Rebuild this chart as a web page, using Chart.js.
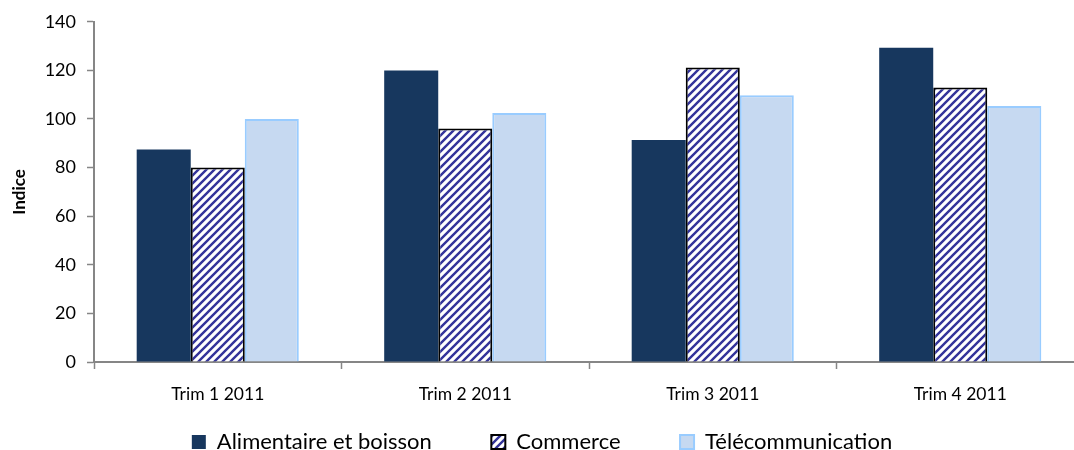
<!DOCTYPE html>
<html>
<head>
<meta charset="utf-8">
<title>Indice par trimestre</title>
<script src="https://cdn.jsdelivr.net/npm/chart.js@4.4.1/dist/chart.umd.min.js"></script>
<style>
    html, body { margin: 0; padding: 0; background: #fff; overflow: hidden; }
    #cadre { width: 1074px; height: 450px; overflow: hidden; position: relative; }
    #graphique { display: block; }
</style>
</head>
<body>
<div id="cadre">
    <canvas id="graphique" width="1090" height="463"></canvas>
</div>
<script>
// Donnees
var trimestres = ["Trim 1 2011", "Trim 2 2011", "Trim 3 2011", "Trim 4 2011"];
var alimentaire = [87.5, 120, 91.4, 129.3];
var commerce = [80, 96.1, 121.2, 113];
var telecom = [100, 102.5, 109.8, 105.3];
var yMin = 0, yMax = 140, yPas = 20;

var police = "Lato, 'Open Sans', sans-serif";
var gris = "#868686";

// Motif hachure pour "Commerce"
function hachure() {
    var c = document.createElement("canvas");
    c.width = 8;
    c.height = 8;
    var ctx = c.getContext("2d");
    ctx.fillStyle = "#ffffff";
    ctx.fillRect(0, 0, 8, 8);
    ctx.strokeStyle = "#33339a";
    ctx.lineWidth = 2.4;
    ctx.beginPath();
    ctx.moveTo(0, 8); ctx.lineTo(8, 0);
    ctx.moveTo(-2, 2); ctx.lineTo(2, -2);
    ctx.moveTo(6, 10); ctx.lineTo(10, 6);
    ctx.stroke();
    return ctx.createPattern(c, "repeat");
}

var config = {
    type: "bar",
    data: {
        labels: trimestres,
        datasets: [{
            label: "Alimentaire et boisson",
            data: alimentaire,
            backgroundColor: "#17375e",
            borderWidth: 0
        }, {
            label: "Commerce",
            data: commerce,
            backgroundColor: hachure(),
            borderColor: "#000000",
            borderWidth: 2
        }, {
            label: "Télécommunication",
            data: telecom,
            backgroundColor: "#c6d9f1",
            borderColor: "#99ccff",
            borderWidth: 2
        }]
    },
    options: {
        responsive: false,
        animation: false,
        devicePixelRatio: 1,
        layout: { padding: { top: 20, right: 6, left: 0, bottom: 0 } },
        datasets: {
            bar: { categoryPercentage: 0.655, barPercentage: 1 }
        },
        plugins: {
            tooltip: { enabled: false },
            legend: {
                position: "bottom",
                labels: {
                    color: "#000",
                    boxWidth: 14,
                    boxHeight: 14,
                    padding: 10,
                    font: { family: police, size: 22 },
                    // espace plus large entre les entrees, comme dans Excel
                    generateLabels: function (chart) {
                        var items = Chart.defaults.plugins.legend.labels.generateLabels(chart);
                        items.forEach(function (it, i) {
                            if (i < items.length - 1) {
                                it.text += "\u2003\u2003\u2003";
                            }
                        });
                        return items;
                    }
                }
            }
        },
        scales: {
            x: {
                grid: {
                    display: true,
                    drawOnChartArea: false,
                    tickLength: 7,
                    tickColor: gris,
                    tickWidth: 1.5
                },
                border: { display: true, color: gris, width: 2 },
                ticks: {
                    color: "#000",
                    padding: 15,
                    font: { family: police, size: 17.5 }
                },
                afterFit: function (scale) { scale.height = 59; }
            },
            y: {
                min: yMin,
                max: yMax,
                grid: {
                    display: true,
                    drawOnChartArea: false,
                    tickLength: 7,
                    tickColor: gris,
                    tickWidth: 1.5
                },
                border: { display: true, color: gris, width: 2 },
                ticks: {
                    stepSize: yPas,
                    color: "#000",
                    padding: 11,
                    font: { family: police, size: 18 }
                },
                title: {
                    display: true,
                    text: "Indice",
                    color: "#000",
                    padding: { top: 9, bottom: 0 },
                    font: { family: police, size: 17, weight: "bold" }
                },
                afterFit: function (scale) { scale.width = 94; }
            }
        }
    }
};

var monGraphique = new Chart(document.getElementById("graphique"), config);
</script>
</body>
</html>
